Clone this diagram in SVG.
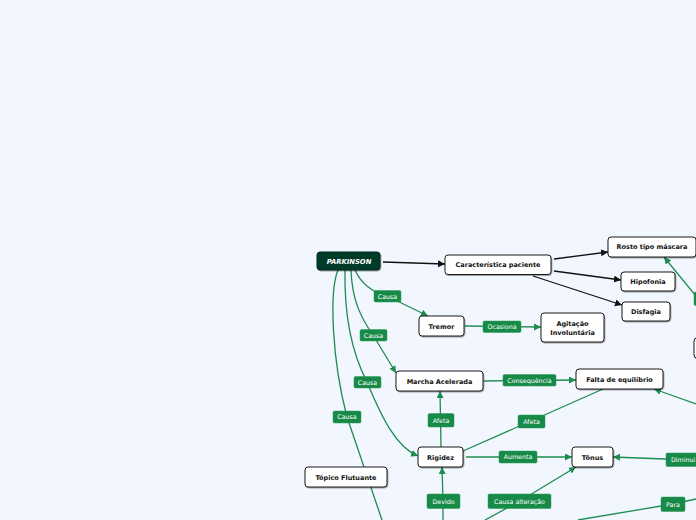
<svg xmlns="http://www.w3.org/2000/svg" width="696" height="520" viewBox="0 0 696 520">
<defs>
<style>
.bg{fill:#f2f6fe}
.node rect{fill:#ffffff;stroke:#1c1c1c;stroke-width:1;filter:url(#sh)}
.node text{font-family:"DejaVu Sans",Verdana,sans-serif;font-size:6.5px;font-weight:bold;fill:#111;text-anchor:middle}
.root rect{fill:#013a2b;stroke:#012a1f;stroke-width:1;filter:url(#sh)}
.root text{font-family:"DejaVu Sans",Verdana,sans-serif;font-size:6.8px;font-weight:bold;font-style:italic;fill:#ffffff;text-anchor:middle}
.lbl rect{fill:#178a48;stroke:#2a9a58;stroke-width:0.5}
.lbl text{font-family:"DejaVu Sans",Verdana,sans-serif;font-size:6.3px;fill:#ffffff;text-anchor:middle}
.k{fill:none;stroke:#111;stroke-width:1.3}
.g{fill:none;stroke:#1d8c4f;stroke-width:1.3}
</style>
<filter id="sh" x="-20%" y="-30%" width="140%" height="170%">
<feDropShadow dx="0.8" dy="1" stdDeviation="0.7" flood-color="#000" flood-opacity="0.35"/>
</filter>
<marker id="ak" markerUnits="userSpaceOnUse" markerWidth="8" markerHeight="8" refX="7" refY="3.5" orient="auto">
<path d="M0,0 L7,3.5 L0,7 z" fill="#111"/>
</marker>
<marker id="ag" markerUnits="userSpaceOnUse" markerWidth="8" markerHeight="8" refX="7" refY="3.5" orient="auto">
<path d="M0,0 L7,3.5 L0,7 z" fill="#1d8c4f"/>
</marker>
</defs>
<rect class="bg" x="0" y="0" width="696" height="520"/>

<g id="connectors">
<path class="k" d="M383,262 L445,264" marker-end="url(#ak)"/>
<path class="k" d="M554,259 L608,252" marker-end="url(#ak)"/>
<path class="k" d="M554,271 L621,280" marker-end="url(#ak)"/>
<path class="k" d="M533,276 L622,305" marker-end="url(#ak)"/>

<path class="g" d="M355,270 Q364,290 387,296 L428,316" marker-end="url(#ag)"/>
<path class="g" d="M351,270 C352,300 361,318 373,335 L396,373" marker-end="url(#ag)"/>
<path class="g" d="M345,270 C344,320 354,357 367,382 C382,418 396,447 418,456" marker-end="url(#ag)"/>
<path class="g" d="M338,270 C329,292 332,360 347,417 Q365,470 382,520"/>

<path class="g" d="M465,326 L541,327" marker-end="url(#ag)"/>
<path class="g" d="M484,381 L576,380" marker-end="url(#ag)"/>
<path class="g" d="M441,447 L440,391" marker-end="url(#ag)"/>
<path class="g" d="M463,451 L531,421 L603,389"/>
<path class="g" d="M466,457 L572,457" marker-end="url(#ag)"/>
<path class="g" d="M690,460 L613,457" marker-end="url(#ag)"/>
<path class="g" d="M485,520 L520,501 L576,467" marker-end="url(#ag)"/>
<path class="g" d="M443,520 L443,501 L442,467" marker-end="url(#ag)"/>
<path class="g" d="M578,520 L673,504 L696,499"/>
<path class="g" d="M696,296 L664,257" marker-end="url(#ag)"/>
<path class="g" d="M696,404 L654,389" marker-end="url(#ag)"/>
</g>

<g id="n-parkinson" class="root"><rect x="317" y="252" width="63" height="18" rx="3"/><text x="349" y="264.3">PARKINSON</text></g>
<g id="n-caracteristica" class="node"><rect x="445" y="255" width="106" height="19.5" rx="3"/><text x="498" y="267.3">Característica paciente</text></g>
<g id="n-rosto" class="node"><rect x="608" y="237" width="88" height="20" rx="3"/><text x="652" y="249.3">Rosto tipo máscara</text></g>
<g id="n-hipofonia" class="node"><rect x="621" y="272" width="54" height="19" rx="3"/><text x="648" y="284">Hipofonia</text></g>
<g id="n-disfagia" class="node"><rect x="622" y="302" width="48" height="19" rx="3"/><text x="646" y="314">Disfagia</text></g>
<g id="n-tremor" class="node"><rect x="419" y="316" width="45" height="20" rx="3"/><text x="441.5" y="328.5">Tremor</text></g>
<g id="n-agitacao" class="node"><rect x="541" y="313" width="63" height="29" rx="3"/><text x="572.5" y="325.5">Agitação</text><text x="572.5" y="335">Involuntária</text></g>
<g id="n-marcha" class="node"><rect x="396" y="371" width="87" height="20" rx="3"/><text x="439.5" y="383.5">Marcha Acelerada</text></g>
<g id="n-falta" class="node"><rect x="576" y="369" width="87" height="20" rx="3"/><text x="619.5" y="381.5">Falta de equilíbrio</text></g>
<g id="n-rigidez" class="node"><rect x="418" y="447" width="45" height="20" rx="3"/><text x="440.5" y="459.5">Rigidez</text></g>
<g id="n-topico" class="node"><rect x="305" y="467" width="82" height="20" rx="3"/><text x="346" y="479.5">Tópico Flutuante</text></g>
<g id="n-tonus" class="node"><rect x="572" y="447" width="41" height="20" rx="3"/><text x="592.5" y="459.5">Tônus</text></g>
<g id="n-edge" class="node"><rect x="694" y="338" width="20" height="20" rx="3"/></g>

<g id="l-causa1" class="lbl"><rect x="374" y="290.5" width="27" height="11.5" rx="1.5"/><text x="387.5" y="298.5">Causa</text></g>
<g id="l-causa2" class="lbl"><rect x="360" y="329.5" width="27" height="11.5" rx="1.5"/><text x="373.5" y="337.5">Causa</text></g>
<g id="l-causa3" class="lbl"><rect x="354" y="376.5" width="27" height="11.5" rx="1.5"/><text x="367.5" y="384.5">Causa</text></g>
<g id="l-causa4" class="lbl"><rect x="333" y="411" width="28" height="12" rx="1.5"/><text x="347" y="419.3">Causa</text></g>
<g id="l-ocasiona" class="lbl"><rect x="483" y="321" width="38" height="11.5" rx="1.5"/><text x="502" y="329">Ocasiona</text></g>
<g id="l-consequencia" class="lbl"><rect x="503" y="374.5" width="53" height="11.5" rx="1.5"/><text x="529.5" y="382.5">Consequência</text></g>
<g id="l-afeta1" class="lbl"><rect x="428" y="413.5" width="26" height="13.5" rx="1.5"/><text x="441" y="422.5">Afeta</text></g>
<g id="l-afeta2" class="lbl"><rect x="518" y="415" width="27" height="13" rx="1.5"/><text x="531.5" y="423.8">Afeta</text></g>
<g id="l-aumenta" class="lbl"><rect x="499" y="451" width="38" height="12" rx="1.5"/><text x="518" y="459.3">Aumenta</text></g>
<g id="l-diminui" class="lbl"><rect x="666" y="453" width="40" height="13.5" rx="1.5"/><text x="671" y="462" style="text-anchor:start">Diminui</text></g>
<g id="l-causaalt" class="lbl"><rect x="488" y="494" width="63" height="14.5" rx="1.5"/><text x="519.5" y="503.5">Causa alteração</text></g>
<g id="l-devido" class="lbl"><rect x="427" y="494" width="33" height="14.5" rx="1.5"/><text x="443.5" y="503.5">Devido</text></g>
<g id="l-para" class="lbl"><rect x="661" y="497" width="24" height="14.5" rx="1.5"/><text x="673" y="506.5">Para</text></g>
<g id="l-edge" class="lbl"><rect x="694" y="292" width="20" height="13.5" rx="1.5"/></g>
</svg>
